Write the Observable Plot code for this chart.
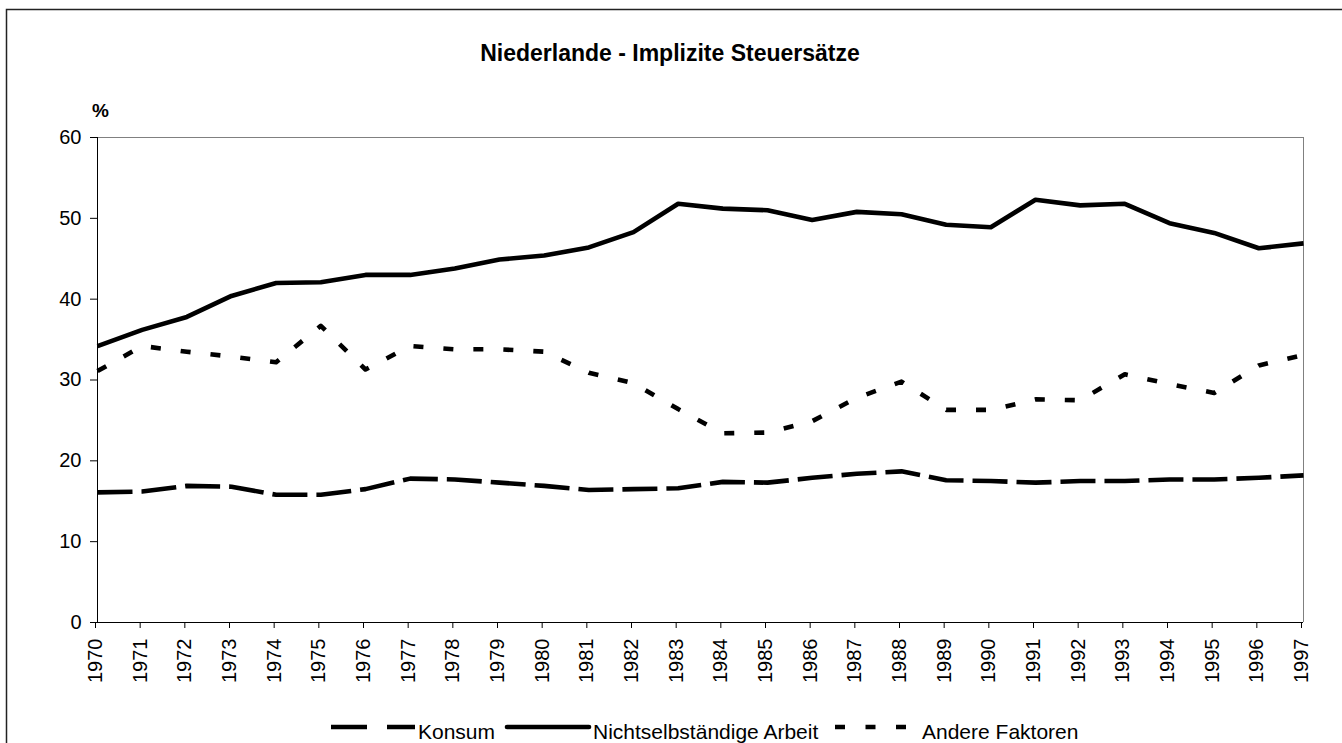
<!DOCTYPE html>
<html>
<head>
<meta charset="utf-8">
<script src="https://cdn.jsdelivr.net/npm/d3@7"></script>
<script src="https://cdn.jsdelivr.net/npm/@observablehq/plot@0.6"></script>
<style>
  html, body { margin: 0; padding: 0; background: #fff; }
  #chart svg { display: block; }
</style>
</head>
<body>
<div id="chart"></div>
<script>
const title = "Niederlande - Implizite Steuersätze";
const unitLabel = "%";
const years = [1970,1971,1972,1973,1974,1975,1976,1977,1978,1979,1980,1981,1982,1983,1984,1985,1986,1987,1988,1989,1990,1991,1992,1993,1994,1995,1996,1997];
const konsum = [16.1,16.2,16.9,16.8,15.8,15.8,16.5,17.8,17.7,17.3,16.9,16.4,16.5,16.6,17.4,17.3,17.9,18.4,18.7,17.6,17.5,17.3,17.5,17.5,17.7,17.7,17.9,18.2];
const arbeit = [34.2,36.2,37.8,40.4,42.0,42.1,43.0,43.0,43.8,44.9,45.4,46.4,48.3,51.8,51.2,51.0,49.8,50.8,50.5,49.2,48.9,52.3,51.6,51.8,49.4,48.2,46.3,46.9];
const andere = [31.1,34.2,33.5,32.9,32.2,36.7,31.3,34.2,33.8,33.8,33.5,30.9,29.6,26.4,23.4,23.5,24.9,27.8,29.8,26.3,26.3,27.6,27.5,30.7,29.5,28.4,31.8,33.1];
const seriesNames = ["Konsum", "Nichtselbständige Arbeit", "Andere Faktoren"];
const yTicks = [0,10,20,30,40,50,60];

const FONT = "'Liberation Sans', Arial, Helvetica, sans-serif";
const W = 1342, H = 743;
const dashKonsum = "35,9";
const dashAndere = "10,20";

const lineOpts = (vals, dash) => ({
  x: (d, i) => years[i],
  y: d => d,
  stroke: "#000",
  strokeWidth: 4.6,
  strokeDasharray: dash,
  strokeLinejoin: "round",
  strokeLinecap: "butt"
});

const chart = Plot.plot({
  width: W,
  height: H,
  marginLeft: 97,
  marginRight: 39,
  marginTop: 137,
  marginBottom: 121,
  style: { fontFamily: FONT, fontSize: "20px", color: "#000", background: "#fff" },
  x: { type: "linear", domain: [years[0], years[years.length - 1]] },
  y: { domain: [0, 60] },
  marks: [
    Plot.ruleY([60], { stroke: "#808080", strokeWidth: 1 }),
    Plot.ruleX([years[years.length - 1]], { stroke: "#808080", strokeWidth: 1 }),
    Plot.axisY({ ticks: yTicks, tickFormat: "d", tickSize: 7, tickPadding: 9, label: null, fontSize: 20 }),
    Plot.axisX({ ticks: years, tickFormat: "d", tickRotate: -90, tickSize: 6, tickPadding: 10, label: null, fontSize: 20, dx: -2 }),
    Plot.ruleX([years[0]], { stroke: "#000", strokeWidth: 1 }),
    Plot.ruleY([0], { stroke: "#000", strokeWidth: 1 }),
    Plot.lineY(konsum, lineOpts(konsum, dashKonsum)),
    Plot.lineY(arbeit, lineOpts(arbeit, null)),
    Plot.lineY(andere, lineOpts(andere, dashAndere))
  ]
});

document.getElementById("chart").appendChild(chart);

const svg = d3.select(chart);
// outer frame (extends beyond the visible area on right/bottom)
svg.insert("rect", ":first-child")
  .attr("x", 6.5).attr("y", 9.5).attr("width", W + 20).attr("height", H + 20)
  .attr("fill", "none").attr("stroke", "#222").attr("stroke-width", 1.5);

svg.append("text")
  .attr("x", 670).attr("y", 61)
  .attr("text-anchor", "middle")
  .attr("font-family", FONT).attr("font-size", 23).attr("font-weight", "bold")
  .attr("fill", "#000")
  .text(title);

svg.append("text")
  .attr("x", 92).attr("y", 117)
  .attr("text-anchor", "start")
  .attr("font-family", FONT).attr("font-size", 19).attr("font-weight", "bold")
  .attr("fill", "#000")
  .text(unitLabel);

// legend
const ly = 727, tb = 738.5;
const lg = svg.append("g").attr("font-family", FONT).attr("font-size", 21)
  .attr("fill", "#000").attr("text-anchor", "start");
lg.append("line").attr("x1", 331).attr("x2", 415).attr("y1", ly).attr("y2", ly)
  .attr("stroke", "#000").attr("stroke-width", 4.6).attr("stroke-dasharray", "36,20");
lg.append("text").attr("x", 418).attr("y", tb).text(seriesNames[0]);
lg.append("line").attr("x1", 507).attr("x2", 589).attr("y1", ly).attr("y2", ly)
  .attr("stroke", "#000").attr("stroke-width", 4.6).attr("stroke-linecap", "round");
lg.append("text").attr("x", 593).attr("y", tb).text(seriesNames[1]);
lg.append("line").attr("x1", 835).attr("x2", 906).attr("y1", ly).attr("y2", ly)
  .attr("stroke", "#000").attr("stroke-width", 4.6).attr("stroke-dasharray", "10,20.5");
lg.append("text").attr("x", 922).attr("y", tb).text(seriesNames[2]);
</script>
</body>
</html>
